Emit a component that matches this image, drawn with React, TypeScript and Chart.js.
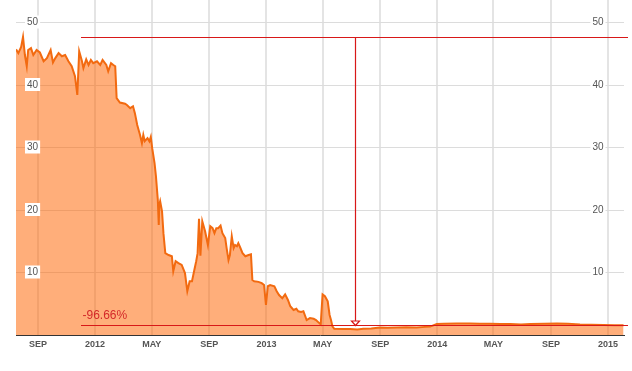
import { useEffect, useRef } from "react";
import { Chart, registerables } from "chart.js";

Chart.register(...registerables);

const priceDates = [
  "2011-07-16", "2011-07-21", "2011-07-27", "2011-07-31", "2011-08-04", "2011-08-08", "2011-08-11",
  "2011-08-17", "2011-08-22", "2011-08-29", "2011-09-05", "2011-09-13", "2011-09-20", "2011-09-28",
  "2011-10-03", "2011-10-08", "2011-10-15", "2011-10-22", "2011-10-29", "2011-11-05", "2011-11-12",
  "2011-11-19", "2011-11-24", "2011-11-28", "2011-12-04", "2011-12-07", "2011-12-13", "2011-12-18",
  "2011-12-23", "2011-12-28", "2012-01-05", "2012-01-12", "2012-01-17", "2012-01-25", "2012-01-29",
  "2012-02-04", "2012-02-09", "2012-02-13", "2012-02-16", "2012-02-23", "2012-03-05", "2012-03-09",
  "2012-03-16", "2012-03-22", "2012-03-26", "2012-03-31", "2012-04-03", "2012-04-06", "2012-04-10",
  "2012-04-13", "2012-04-16", "2012-04-22", "2012-04-26", "2012-04-29", "2012-05-02", "2012-05-07",
  "2012-05-10", "2012-05-14", "2012-05-16", "2012-05-17", "2012-05-19", "2012-05-23", "2012-05-26",
  "2012-05-30", "2012-06-06", "2012-06-13", "2012-06-16", "2012-06-21", "2012-06-27", "2012-07-04",
  "2012-07-11", "2012-07-16", "2012-07-21", "2012-07-26", "2012-07-31", "2012-08-04", "2012-08-07",
  "2012-08-10", "2012-08-13", "2012-08-17", "2012-08-23", "2012-08-29", "2012-09-03", "2012-09-08",
  "2012-09-12", "2012-09-16", "2012-09-20", "2012-09-25", "2012-09-29", "2012-10-05", "2012-10-08",
  "2012-10-12", "2012-10-15", "2012-10-19", "2012-10-23", "2012-10-26", "2012-10-30", "2012-11-02",
  "2012-11-06", "2012-11-11", "2012-11-17", "2012-11-24", "2012-11-29", "2012-12-02", "2012-12-06",
  "2012-12-15", "2012-12-22", "2012-12-27", "2012-12-31", "2013-01-04", "2013-01-09", "2013-01-18",
  "2013-01-23", "2013-01-28", "2013-02-04", "2013-02-10", "2013-02-16", "2013-02-21", "2013-02-28",
  "2013-03-06", "2013-03-10", "2013-03-16", "2013-03-21", "2013-03-28", "2013-04-04", "2013-04-12",
  "2013-04-17", "2013-04-24", "2013-04-27", "2013-05-01", "2013-05-06", "2013-05-12", "2013-05-16",
  "2013-05-19", "2013-05-22", "2013-05-26", "2013-06-14", "2013-06-29", "2013-07-14", "2013-07-27",
  "2013-08-13", "2013-09-01", "2013-09-17", "2013-10-07", "2013-10-27", "2013-11-18", "2013-12-06",
  "2013-12-17", "2013-12-31", "2014-01-15", "2014-02-12", "2014-03-12", "2014-04-02", "2014-04-24",
  "2014-05-16", "2014-06-06", "2014-06-29", "2014-07-19", "2014-08-18", "2014-09-14", "2014-10-07",
  "2014-11-02", "2014-11-26", "2014-12-22", "2015-01-15", "2015-02-03",
];

const priceValues = [
  45.7, 45.1, 46.1, 47.7, 44.8, 43.0, 45.6,
  45.9, 44.8, 45.6, 45.2, 43.8, 44.3, 45.6,
  43.6, 44.3, 45.1, 44.6, 44.8, 43.8, 43.0,
  41.4, 38.4, 45.4, 43.8, 42.7, 44.1, 43.2,
  44.0, 43.5, 43.8, 43.2, 44.0, 43.2, 42.2,
  43.5, 43.2, 43.0, 37.9, 37.2, 37.0, 36.8,
  36.3, 36.6, 35.5, 33.6, 32.8, 32.0, 30.7,
  32.0, 31.0, 31.5, 31.0, 31.7, 29.9, 27.5,
  25.4, 21.6, 17.6, 20.8, 21.4, 19.8, 16.3,
  13.1, 12.8, 12.6, 10.2, 11.8, 11.5, 11.2,
  9.9, 7.0, 8.6, 8.6, 10.4, 11.8, 13.1,
  18.6, 12.7, 18.2, 16.6, 14.4, 17.4, 17.1,
  16.3, 17.1, 17.1, 17.5, 16.3, 15.5, 13.9,
  12.0, 12.8, 15.8, 13.9, 14.4, 14.2, 14.7,
  14.0, 13.1, 12.6, 12.8, 12.9, 8.8, 8.6,
  8.5, 8.3, 8.0, 4.8, 7.8, 8.0, 7.8,
  7.0, 6.4, 5.9, 6.5, 5.6, 4.6, 4.0,
  4.2, 3.8, 3.7, 3.8, 2.4, 2.7, 2.6,
  2.4, 1.9, 1.7, 6.5, 6.2, 5.4, 3.2,
  2.4, 1.4, 1.0, 0.95, 0.95, 0.9, 1.0,
  1.05, 1.2, 1.15, 1.2, 1.25, 1.2, 1.3,
  1.35, 1.75, 1.8, 1.85, 1.85, 1.8, 1.8,
  1.75, 1.75, 1.7, 1.75, 1.8, 1.85, 1.8,
  1.7, 1.65, 1.6, 1.55, 1.55,
];

const tickDates = [
  "2011-09-01", "2012-01-01", "2012-05-01", "2012-09-01", "2013-01-01", "2013-05-01",
  "2013-09-01", "2014-01-01", "2014-05-01", "2014-09-01", "2015-01-01",
];
const tickLabels = ["SEP", "2012", "MAY", "SEP", "2013", "MAY", "SEP", "2014", "MAY", "SEP", "2015"];
const yTickValues = [10, 20, 30, 40, 50];

const xStart = "2011-07-16";
const xEnd = "2015-02-04";
const yMin = 0;
const yMax = 53.6;

const peakValue = 47.7;
const troughValue = 1.59;
const troughDate = "2013-07-09";
const markerStart = "2011-12-02";
const changeLabel = "-96.66%";

const FONT = 'Arial, "Liberation Sans", Helvetica, sans-serif';
const BASE = Date.UTC(2012, 0, 1);
function dayNum(s: string): number {
  const [y, m, d] = s.split("-").map(Number);
  return (Date.UTC(y, m - 1, d) - BASE) / 86400000;
}

function noPadding(s: any) {
  s.paddingTop = 0;
  s.paddingBottom = 0;
  s.paddingLeft = 0;
  s.paddingRight = 0;
}

const dropPlugin = {
  id: "dropMarker",
  afterDatasetsDraw(chart: any) {
    const { ctx, scales, chartArea } = chart;
    const x = scales.x;
    const y = scales.y;
    const x0 = Math.round(x.getPixelForValue(dayNum(markerStart)));
    const x1 = chartArea.right + 4;
    const yTop = Math.round(y.getPixelForValue(peakValue)) + 0.5;
    const yBot = Math.round(y.getPixelForValue(troughValue)) + 0.5;
    const xv = Math.round(x.getPixelForValue(dayNum(troughDate))) + 0.5;
    ctx.save();
    ctx.strokeStyle = "#d81818";
    ctx.lineWidth = 1.2;
    ctx.beginPath();
    ctx.moveTo(x0, yTop);
    ctx.lineTo(x1, yTop);
    ctx.moveTo(x0, yBot);
    ctx.lineTo(x1, yBot);
    ctx.moveTo(xv, yTop);
    ctx.lineTo(xv, yBot - 4);
    ctx.stroke();
    ctx.beginPath();
    ctx.moveTo(xv - 4, yBot - 4.5);
    ctx.lineTo(xv + 4, yBot - 4.5);
    ctx.lineTo(xv, yBot);
    ctx.closePath();
    ctx.fillStyle = "#ffffff";
    ctx.fill();
    ctx.stroke();
    ctx.fillStyle = "#d42a2a";
    ctx.font = "12px " + FONT;
    ctx.textAlign = "left";
    ctx.textBaseline = "alphabetic";
    ctx.fillText(changeLabel, x0 + 1.5, yBot - 6.5);
    ctx.restore();
  },
  afterDraw(chart: any) {
    const ctx = chart.ctx;
    ["y", "y2"].forEach((id) => {
      const s = chart.scales[id];
      if (!s || typeof s.getLabelItems !== "function") return;
      const items = s.getLabelItems();
      ctx.save();
      ctx.strokeStyle = "#d0d0d0";
      ctx.lineWidth = 1;
      items.forEach((it: any) => {
        const b = it.backdrop;
        if (!b) return;
        ctx.strokeRect(Math.round(b.left) + 0.5, Math.round(b.top) + 0.5, Math.round(b.width) - 1, Math.round(b.height) - 1);
      });
      ctx.restore();
    });
  },
};

export default function App() {
  const ref = useRef<HTMLCanvasElement | null>(null);

  useEffect(() => {
    if (!ref.current) return;
    const points = priceDates.map((d, i) => ({ x: dayNum(d), y: priceValues[i] }));
    const yTickOpts = {
      mirror: true,
      z: 1,
      showLabelBackdrop: true,
      backdropColor: "#ffffff",
      backdropPadding: { left: 2, right: 2, top: 1, bottom: 0 },
      color: "#555555",
      font: { family: FONT, size: 10 },
    };
    const chart = new Chart(ref.current, {
      type: "line",
      data: {
        datasets: [
          {
            data: points,
            borderColor: "#f26a10",
            borderWidth: 2,
            backgroundColor: "rgba(255,100,0,0.52)",
            fill: "origin",
            pointRadius: 0,
            tension: 0,
          },
        ],
      },
      options: {
        animation: false,
        responsive: false,
        devicePixelRatio: 1,
        layout: { padding: 0 },
        plugins: { legend: { display: false }, tooltip: { enabled: false } },
        scales: {
          x: {
            type: "linear",
            min: dayNum(xStart),
            max: dayNum(xEnd),
            afterBuildTicks: (s: any) => {
              s.ticks = tickDates.map((d) => ({ value: dayNum(d) }));
            },
            afterFit: (s: any) => {
              s.height = 36;
              noPadding(s);
            },
            ticks: {
              autoSkip: false,
              maxRotation: 0,
              padding: 4,
              color: "#555555",
              font: { family: FONT, size: 9, weight: "bold" },
              callback: (_v: any, i: number) => tickLabels[i],
            },
            grid: { color: "#e4e4e4", lineWidth: 2, drawTicks: false },
            border: { display: true, color: "#333333", width: 1 },
          },
          y: {
            type: "linear",
            position: "left",
            min: yMin,
            max: yMax,
            afterBuildTicks: (s: any) => {
              s.ticks = yTickValues.map((v) => ({ value: v }));
            },
            afterFit: (s: any) => {
              s.width = 16;
              noPadding(s);
            },
            ticks: { ...yTickOpts, padding: 11 },
            grid: { color: "#dcdcdc", lineWidth: 1, drawTicks: false },
            border: { display: false },
          },
          y2: {
            type: "linear",
            position: "right",
            min: yMin,
            max: yMax,
            afterBuildTicks: (s: any) => {
              s.ticks = yTickValues.map((v) => ({ value: v }));
            },
            afterFit: (s: any) => {
              s.width = 8;
              noPadding(s);
            },
            ticks: { ...yTickOpts, padding: -20.5 },
            grid: { display: false, drawTicks: false },
            border: { display: false },
          },
        },
      } as any,
      plugins: [dropPlugin],
    });
    return () => chart.destroy();
  }, []);

  return (
    <div style={{ position: "fixed", left: 0, top: 0, width: 632, height: 371, background: "#fff" }}>
      <canvas ref={ref} width={632} height={371} style={{ display: "block", width: 632, height: 371 }} />
    </div>
  );
}
